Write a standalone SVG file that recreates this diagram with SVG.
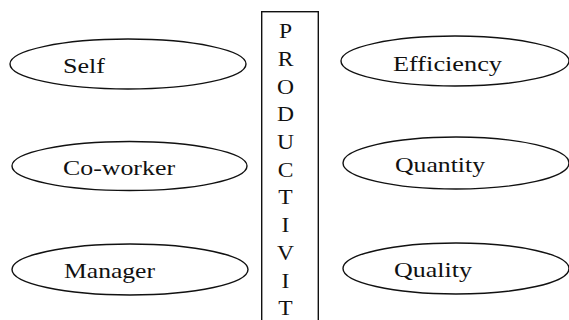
<svg xmlns="http://www.w3.org/2000/svg" width="569" height="320" viewBox="0 0 569 320">
  <style>
    .oval { fill: #ffffff; stroke: #111111; stroke-width: 1.4; }
    .box { fill: #ffffff; stroke: #111111; stroke-width: 1.4; }
    .lbl { font-family: "Liberation Serif", "Times New Roman", serif; font-size: 22px; fill: #111111; }
    .ltr { font-family: "Liberation Serif", "Times New Roman", serif; font-size: 20.5px; fill: #111111; text-anchor: middle; }
  </style>
  <rect width="569" height="320" fill="#ffffff"/>

  <!-- sources of appraisal -->
  <g id="self">
    <ellipse class="oval" cx="128" cy="64" rx="118" ry="25"/>
    <text class="lbl" x="63" y="72.7" textLength="42" lengthAdjust="spacingAndGlyphs">Self</text>
  </g>
  <g id="coworker">
    <ellipse class="oval" cx="129.5" cy="166" rx="117.5" ry="24.5"/>
    <text class="lbl" x="63" y="175" textLength="112" lengthAdjust="spacingAndGlyphs">Co-worker</text>
  </g>
  <g id="manager">
    <ellipse class="oval" cx="130" cy="269.5" rx="118" ry="25.5"/>
    <text class="lbl" x="64" y="278" textLength="91" lengthAdjust="spacingAndGlyphs">Manager</text>
  </g>

  <!-- central vertical box with stacked letters -->
  <g id="productivity">
    <rect class="box" x="261.7" y="11.7" width="56.6" height="320"/>
    <g transform="translate(285.5,0) scale(1.15,1)">
      <text class="ltr" x="0" y="38.3">P</text>
      <text class="ltr" x="0" y="66">R</text>
      <text class="ltr" x="0" y="93.7">O</text>
      <text class="ltr" x="0" y="121.4">D</text>
      <text class="ltr" x="0" y="149.1">U</text>
      <text class="ltr" x="0" y="176.8">C</text>
      <text class="ltr" x="0" y="204.5">T</text>
      <text class="ltr" x="0" y="232.5">I</text>
      <text class="ltr" x="0" y="260.5">V</text>
      <text class="ltr" x="0" y="288.5">I</text>
      <text class="ltr" x="0" y="315">T</text>
    </g>
  </g>

  <!-- productivity measures -->
  <g id="efficiency">
    <ellipse class="oval" cx="455" cy="61" rx="114" ry="25"/>
    <text class="lbl" x="393" y="70.7" textLength="109" lengthAdjust="spacingAndGlyphs">Efficiency</text>
  </g>
  <g id="quantity">
    <ellipse class="oval" cx="456" cy="163" rx="113" ry="26"/>
    <text class="lbl" x="395" y="171.7" textLength="90" lengthAdjust="spacingAndGlyphs">Quantity</text>
  </g>
  <g id="quality">
    <ellipse class="oval" cx="456" cy="268.5" rx="113" ry="25.5"/>
    <text class="lbl" x="394" y="276.7" textLength="78" lengthAdjust="spacingAndGlyphs">Quality</text>
  </g>

  <g id="connectors"/>
</svg>
